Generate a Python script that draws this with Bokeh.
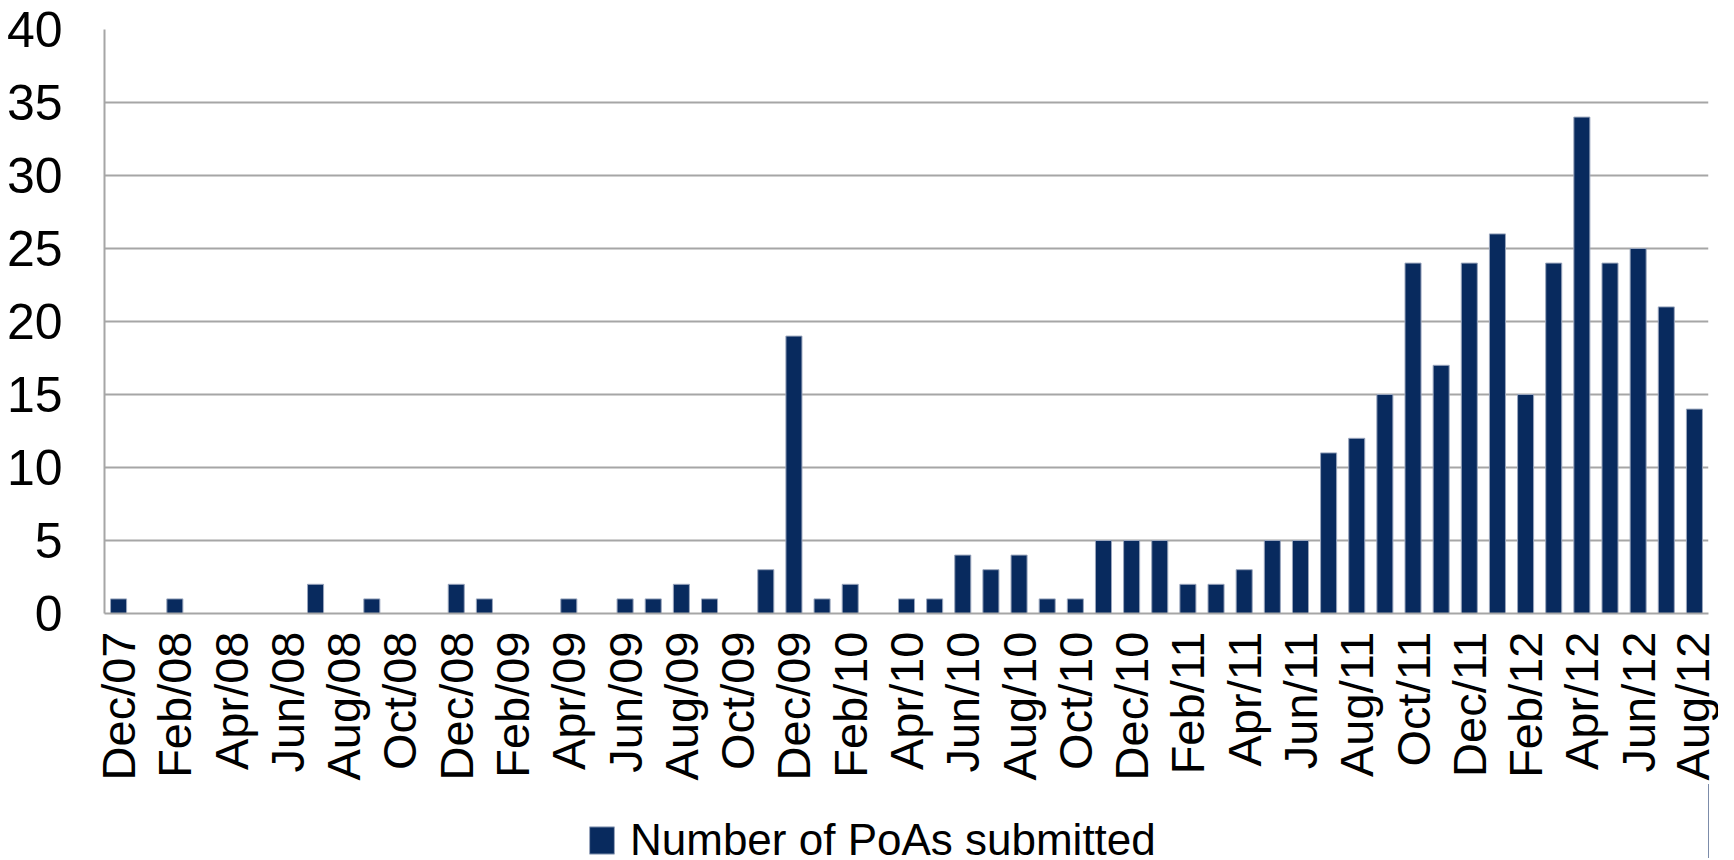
from bokeh.plotting import figure
from bokeh.models import ColumnDataSource, FixedTicker, Legend, LegendItem, Range1d
from bokeh.layouts import column
from bokeh.embed import file_html
from bokeh.resources import INLINE
import math

months = ["Dec/07",
          "Jan/08", "Feb/08", "Mar/08", "Apr/08", "May/08", "Jun/08",
          "Jul/08", "Aug/08", "Sep/08", "Oct/08", "Nov/08", "Dec/08",
          "Jan/09", "Feb/09", "Mar/09", "Apr/09", "May/09", "Jun/09",
          "Jul/09", "Aug/09", "Sep/09", "Oct/09", "Nov/09", "Dec/09",
          "Jan/10", "Feb/10", "Mar/10", "Apr/10", "May/10", "Jun/10",
          "Jul/10", "Aug/10", "Sep/10", "Oct/10", "Nov/10", "Dec/10",
          "Jan/11", "Feb/11", "Mar/11", "Apr/11", "May/11", "Jun/11",
          "Jul/11", "Aug/11", "Sep/11", "Oct/11", "Nov/11", "Dec/11",
          "Jan/12", "Feb/12", "Mar/12", "Apr/12", "May/12", "Jun/12",
          "Jul/12", "Aug/12"]

poas = [1,
        0, 1, 0, 0, 0, 0,
        2, 0, 1, 0, 0, 2,
        1, 0, 0, 1, 0, 1,
        1, 2, 1, 0, 3, 19,
        1, 2, 0, 1, 1, 4,
        3, 4, 1, 1, 5, 5,
        5, 2, 2, 3, 5, 5,
        11, 12, 15, 24, 17, 24,
        26, 15, 24, 34, 24, 25,
        21, 14]

y_ticks = [0, 5, 10, 15, 20, 25, 30, 35, 40]
series_name = "Number of PoAs submitted"

FONT = "Liberation Sans, Arial, sans-serif"
NAVY = "#082a5e"
GRID = "#a6a6a6"

W = 1718
H1 = 784           # main chart
H2 = 74            # legend strip
BL, BR, BT = 104, 10, 29
FRAME_BOTTOM = 613
BB = H1 - FRAME_BOTTOM

idx = list(range(len(months)))
src = ColumnDataSource(dict(x=idx, top=poas, label=months))

p = figure(output_backend="svg", toolbar_location=None,
           width=W, height=H1,
           min_border_left=BL, min_border_top=BT, min_border_right=BR,
           min_border_bottom=BB,
           x_range=Range1d(-0.5, len(months) - 0.5),
           y_range=Range1d(0, 40))

bar_style = dict(fill_color=NAVY, line_color="#9aa6bd", line_width=1)
r = p.vbar(x="x", top="top", width=0.57, source=src, **bar_style)

p.outline_line_color = None
p.background_fill_color = "white"

p.xaxis.ticker = FixedTicker(ticks=idx[::2])
p.xaxis.major_label_overrides = {i: months[i] for i in idx[::2]}
p.xaxis.major_label_orientation = math.pi / 2
p.xaxis.major_label_text_font = FONT
p.xaxis.major_label_text_font_size = "47px"
p.xaxis.major_label_text_color = "black"
p.xaxis.major_label_standoff = 12
p.xaxis.major_tick_line_color = None
p.xaxis.minor_tick_line_color = None
p.xaxis.axis_line_color = GRID
p.xaxis.axis_line_width = 2

p.yaxis.ticker = FixedTicker(ticks=y_ticks)
p.yaxis.major_label_text_font = FONT
p.yaxis.major_label_text_font_size = "50px"
p.yaxis.major_label_text_color = "black"
p.yaxis.major_label_standoff = 36
p.yaxis.major_tick_line_color = None
p.yaxis.minor_tick_line_color = None
p.yaxis.axis_line_color = GRID
p.yaxis.axis_line_width = 2

p.xgrid.grid_line_color = None
p.ygrid.grid_line_color = GRID
p.ygrid.grid_line_width = 2

# legend strip below the chart (its x range lies away from the data,
# so only the legend entry of this renderer is visible)
leg = figure(output_backend="svg", toolbar_location=None,
             width=W, height=H2, min_border=0,
             x_axis_type=None, y_axis_type=None,
             x_range=Range1d(-1000, -999), y_range=Range1d(0, 1))
leg.outline_line_color = None
leg.xgrid.grid_line_color = None
leg.ygrid.grid_line_color = None
r_leg = leg.vbar(x="x", top="top", width=0.57, source=src, **bar_style)

legend = Legend(items=[LegendItem(label=series_name, renderers=[r_leg])],
                location=(482, -7), orientation="horizontal",
                border_line_color=None, background_fill_alpha=0,
                label_text_font=FONT, label_text_font_size="44px",
                label_text_color="black",
                label_height=34,
                glyph_width=31, glyph_height=34, label_standoff=13,
                padding=0, margin=0)
leg.add_layout(legend, "center")

layout = column(p, leg, spacing=0)
open("out.html", "w").write(file_html(layout, INLINE))
